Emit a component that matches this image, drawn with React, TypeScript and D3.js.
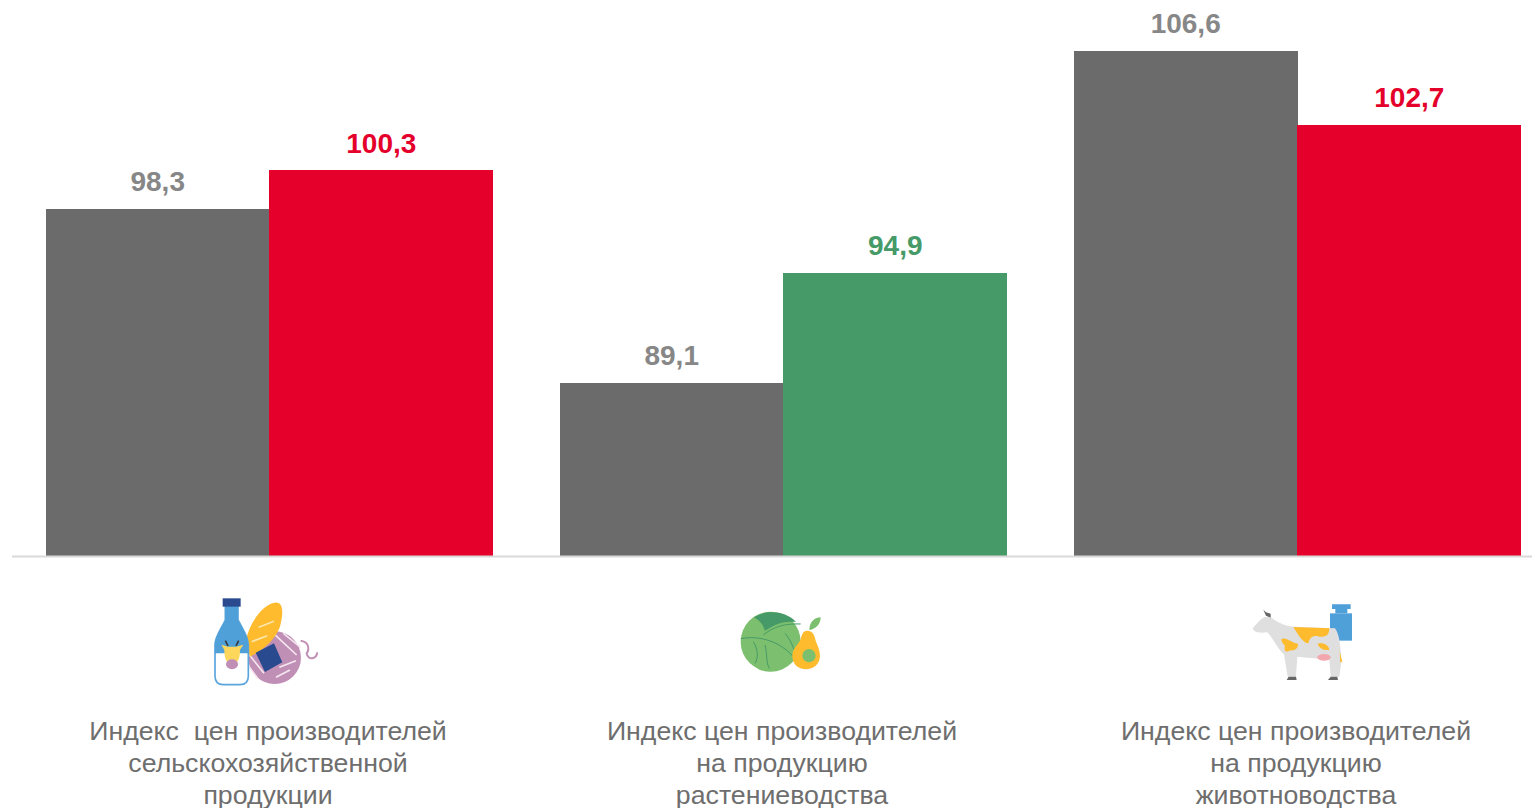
import React from 'react';
import { scaleBand, scaleLinear } from 'd3';

// values
const categories = ['total', 'crops', 'livestock'];
const previousValues = [98.3, 89.1, 106.6];
const currentValues = [100.3, 94.9, 102.7];
const currentColors = ['#e4002b', '#459a67', '#e4002b'];
const categoryLabels = [
  ['Индекс  цен производителей', 'сельскохозяйственной', 'продукции'],
  ['Индекс цен производителей', 'на продукцию', 'растениеводства'],
  ['Индекс цен производителей', 'на продукцию', 'животноводства'],
];

const WIDTH = 1532;
const HEIGHT = 808;
const BASELINE = 556;
const GRAY_BAR = '#6b6b6b';
const GRAY_LABEL = '#878787';
const FONT = '"Liberation Sans", Arial, sans-serif';

const fmt = (v: number) => v.toFixed(1).replace('.', ',');

// icons are traced at 3x, so each one is scaled back down
function DairyIcon() {
  return (
    <g transform="translate(200,590) scale(0.3333)">
      <circle cx="224" cy="203" r="79" fill="#c08fb5" />
      <path d="M146,192 L192,250 M144,226 L175,268 M218,128 L290,195 M250,130 L302,172 M238,232 L288,212 M228,262 L270,240" stroke="#f5e6f0" strokeWidth="5" fill="none" />
      <path d="M302,152 C325,155 330,175 320,190 C325,215 350,205 352,187" stroke="#c08fb5" strokeWidth="6" fill="none" />
      <path d="M138,150 C148,100 188,42 225,38 C252,35 250,72 240,110 C225,150 190,180 150,200 Z" fill="#fdbb2d" />
      <path d="M176,112 L222,94 M155,155 L202,137" stroke="#fde6a8" strokeWidth="5" fill="none" />
      <path d="M167,188 L222,160 L247,217 L195,246 Z" fill="#2a4a8f" />
      <path d="M76,50 L114,50 L114,90 C130,120 145,140 145,165 L145,258 C145,275 135,284 120,284 L70,284 C55,284 45,275 45,258 L45,165 C45,140 62,120 76,90 Z" fill="#ffffff" stroke="#5aa5dc" strokeWidth="5" />
      <path d="M76,50 L114,50 L114,90 C130,120 145,140 145,165 L145,190 L45,190 L45,165 C45,140 62,120 76,90 Z" fill="#4f9fd8" />
      <rect x="68" y="25" width="54" height="25" fill="#2a4a8f" />
      <path d="M84,168 L76,152 M108,168 L116,152" stroke="#3c3c3c" strokeWidth="5" fill="none" />
      <path d="M64,164 L84,170 L108,170 L130,164 L120,180 C120,195 118,212 108,218 L84,218 C76,212 73,195 73,180 Z" fill="#fdd65c" />
      <ellipse cx="96" cy="223" rx="18" ry="15" fill="#c08fb5" />
    </g>
  );
}

function CropIcon() {
  return (
    <g transform="translate(730,600) scale(0.3333)">
      <circle cx="122" cy="125" r="90" fill="#7cc06f" />
      <path d="M72,52 C105,30 165,30 198,66 C165,62 135,72 105,92 C100,75 88,60 72,52 Z" fill="#459a67" />
      <path d="M32,116 C90,105 150,125 190,170 M100,105 C130,80 165,70 212,72 M150,40 C145,55 140,65 130,78 M70,125 C85,150 85,175 75,190 M105,135 C112,160 108,190 118,205 M165,100 C178,115 185,130 192,148" stroke="#459a67" strokeWidth="3" fill="none" />
      <path d="M232,92 C250,92 255,110 257,122 C262,135 270,150 270,168 C270,192 250,208 228,208 C205,208 187,192 187,168 C187,145 205,135 212,118 C216,102 220,92 232,92 Z" fill="#fdbb2d" />
      <circle cx="237" cy="167" r="20" fill="#7cc06f" />
      <path d="M238,90 C238,65 255,52 272,52 C272,72 258,88 238,90 Z" fill="#7cc06f" />
    </g>
  );
}

function CowIcon() {
  return (
    <g transform="translate(1240,595) scale(0.3333)">
      <rect x="270" y="55" width="66" height="82" fill="#4f9fd8" />
      <path d="M276,28 L332,28 L332,42 L322,42 L322,55 L286,55 L286,42 L276,42 Z" fill="#4f9fd8" />
      <path d="M38,100 C50,85 65,70 75,65 L95,68 C110,80 130,92 160,95 L285,100 C297,115 302,150 304,200 L298,245 L272,245 L268,195 C250,190 210,190 172,185 L168,245 L143,245 L132,178 C115,165 100,130 82,112 C65,114 42,115 38,100 Z" fill="#dfdfdf" />
      <path d="M70,44 L78,62 L92,68 L92,56 L78,52 Z" fill="#666666" />
      <path d="M160,96 L268,100 C268,115 262,128 240,125 C220,120 210,125 205,145 C190,145 175,120 160,96 Z" fill="#fdbb2d" />
      <path d="M124,132 C140,125 150,142 174,146 C176,158 165,168 150,166 C140,174 130,168 135,152 C128,146 124,140 124,132 Z" fill="#fdbb2d" />
      <path d="M233,146 C250,142 266,150 268,164 C255,168 238,162 233,146 Z" fill="#fdbb2d" />
      <path d="M299,168 L307,200 L301,202 Z" fill="#fdbb2d" />
      <ellipse cx="252" cy="187" rx="20" ry="10" fill="#f2a7ae" />
      <path d="M146,245 L168,245 L170,255 L140,255 Z M272,245 L292,245 L294,255 L264,255 Z" fill="#666666" />
    </g>
  );
}

const icons = [<DairyIcon key="dairy" />, <CropIcon key="crop" />, <CowIcon key="cow" />];

export default function App() {
  const x = scaleBand<string>()
    .domain(categories)
    .range([12.5, 1554.5])
    .paddingInner(0.13)
    .paddingOuter(0.065);
  const y = scaleLinear().domain([80, 110]).range([BASELINE, BASELINE - 30 * 18.98]);
  const barW = x.bandwidth() / 2;

  return (
    <svg
      width={WIDTH}
      height={HEIGHT}
      viewBox={`0 0 ${WIDTH} ${HEIGHT}`}
      style={{ position: 'absolute', left: 0, top: 0, display: 'block', background: '#fff' }}
      fontFamily={FONT}
    >
      {categories.map((c, i) => {
        const x0 = x(c) as number;
        return (
          <g key={c}>
            <rect x={x0} y={y(previousValues[i])} width={barW} height={BASELINE - y(previousValues[i])} fill={GRAY_BAR} shapeRendering="crispEdges" />
            <rect x={x0 + barW - 0.5} y={y(currentValues[i]) - 0.4} width={barW + 0.5} height={BASELINE - y(currentValues[i]) + 0.4} fill={currentColors[i]} shapeRendering="crispEdges" />
            <text x={x0 + barW / 2} y={y(previousValues[i]) - 18} textAnchor="middle" fontSize={28} fontWeight={700} fill={GRAY_LABEL}>
              {fmt(previousValues[i])}
            </text>
            <text x={x0 + barW * 1.5} y={y(currentValues[i]) - 18} textAnchor="middle" fontSize={28} fontWeight={700} fill={currentColors[i]}>
              {fmt(currentValues[i])}
            </text>
            {categoryLabels[i].map((line, j) => (
              <text
                key={j}
                x={x0 + barW - 1.5}
                y={740 + j * 32}
                textAnchor="middle"
                fontSize={26.7}
                fill="#6e6e6e"
                style={{ whiteSpace: 'pre' }}
              >
                {line}
              </text>
            ))}
            {icons[i]}
          </g>
        );
      })}
      <line x1={12} x2={WIDTH} y1={BASELINE + 0.5} y2={BASELINE + 0.5} stroke="#d9d9d9" strokeWidth={2} />
    </svg>
  );
}
